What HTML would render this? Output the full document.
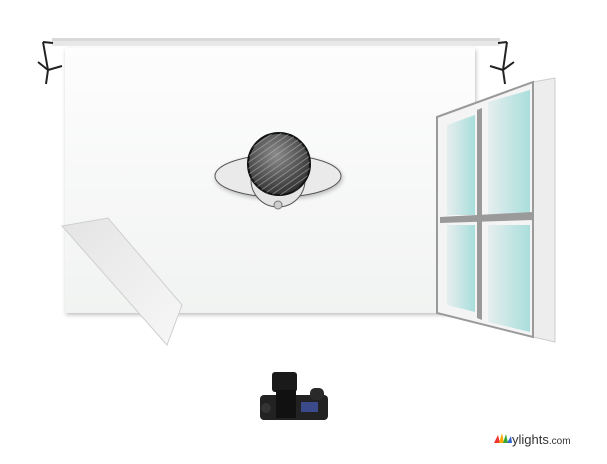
<!DOCTYPE html><html><head><style>body{margin:0;background:#fff;width:607px;height:459px;overflow:hidden;font-family:"Liberation Sans",sans-serif}</style></head><body>
<svg width="607" height="459" viewBox="0 0 607 459">
<defs>
<linearGradient id="bd" x1="0" y1="0" x2="0" y2="1"><stop offset="0" stop-color="#fdfdfd"/><stop offset="1" stop-color="#f1f3f2"/></linearGradient>
<linearGradient id="rf" x1="0" y1="0" x2="1" y2="1"><stop offset="0" stop-color="#e4e4e4"/><stop offset="1" stop-color="#f7f7f7"/></linearGradient>
<linearGradient id="gl" x1="0" y1="0" x2="1" y2="0"><stop offset="0" stop-color="#e6eeee"/><stop offset="1" stop-color="#a9dedc"/></linearGradient>
<radialGradient id="hd" cx="0.45" cy="0.35" r="0.7"><stop offset="0" stop-color="#8a8a8a"/><stop offset="1" stop-color="#2a2a2a"/></radialGradient>
<pattern id="hatch" width="5" height="5" patternUnits="userSpaceOnUse" patternTransform="rotate(-35)"><rect width="5" height="1" fill="#bbb" opacity="0.5"/></pattern>
<filter id="sh"><feDropShadow dx="1" dy="2" stdDeviation="2" flood-opacity="0.25"/></filter>
</defs>
<rect x="65" y="48" width="410" height="265" fill="url(#bd)" filter="url(#sh)"/>
<rect x="52" y="38" width="448" height="8" fill="#e8e8e8"/>
<rect x="52" y="38" width="448" height="3" fill="#d9d9d9"/>
<g stroke="#222" stroke-width="2" fill="none"><path d="M43 42 L48 70 M48 70 L38 62 M48 70 L62 66 M48 70 L46 84 M43 42 L53 43"/>
<path d="M507 42 L503 70 M503 70 L490 66 M503 70 L514 62 M503 70 L505 84 M507 42 L498 43"/></g>
<polygon points="62,226 108,218 182,305 167,345" fill="url(#rf)" stroke="#cfcfcf" stroke-width="1"/>
<ellipse cx="278" cy="176" rx="63" ry="21" fill="#eaeaea" stroke="#555" stroke-width="1" filter="url(#sh)"/>
<circle cx="278" cy="180" r="27" fill="#e4e4e4" stroke="#555"/>
<ellipse cx="278" cy="205" rx="4" ry="4" fill="#ccc" stroke="#777"/>
<circle cx="279" cy="164" r="31" fill="url(#hd)" stroke="#111" stroke-width="2"/>
<circle cx="279" cy="164" r="31" fill="url(#hatch)"/>
<polygon points="533,82 555,78 555,342 533,337" fill="#ededed" stroke="#ccc"/>
<polygon points="437,117 533,82 533,337 437,313" fill="#f4f4f4" stroke="#9a9a9a" stroke-width="2"/>
<polygon points="447,125 475,115 475,215 447,215" fill="url(#gl)"/>
<polygon points="488,102 530,90 530,215 488,215" fill="url(#gl)"/>
<polygon points="447,225 475,225 475,312 447,305" fill="url(#gl)"/>
<polygon points="488,225 530,225 530,332 488,322" fill="url(#gl)"/>
<polygon points="477,110 482,108 482,320 477,318" fill="#9a9a9a"/>
<polygon points="440,217 533,212 533,220 440,223" fill="#9a9a9a"/>
<rect x="272" y="372" width="25" height="20" rx="3" fill="#1a1a1a"/>
<rect x="260" y="395" width="68" height="25" rx="4" fill="#222"/>
<rect x="310" y="388" width="14" height="12" rx="5" fill="#2a2a2a"/>
<rect x="276" y="390" width="20" height="28" fill="#111"/>
<rect x="301" y="402" width="17" height="10" fill="#3a4a8a"/>
<circle cx="266" cy="408" r="5" fill="#333"/>
<g transform="translate(494,433)"><path d="M0 10 L4 2 L6 10 Z" fill="#e33"/><path d="M5 10 L8 0 L10 10Z" fill="#fa0"/><path d="M9 10 L12 1 L14 10Z" fill="#3a3"/><path d="M13 10 L17 3 L18 10Z" fill="#36c"/></g>
<text x="512" y="444" font-size="13" fill="#333">ylights<tspan font-size="10">.com</tspan></text>
</svg></body></html>
